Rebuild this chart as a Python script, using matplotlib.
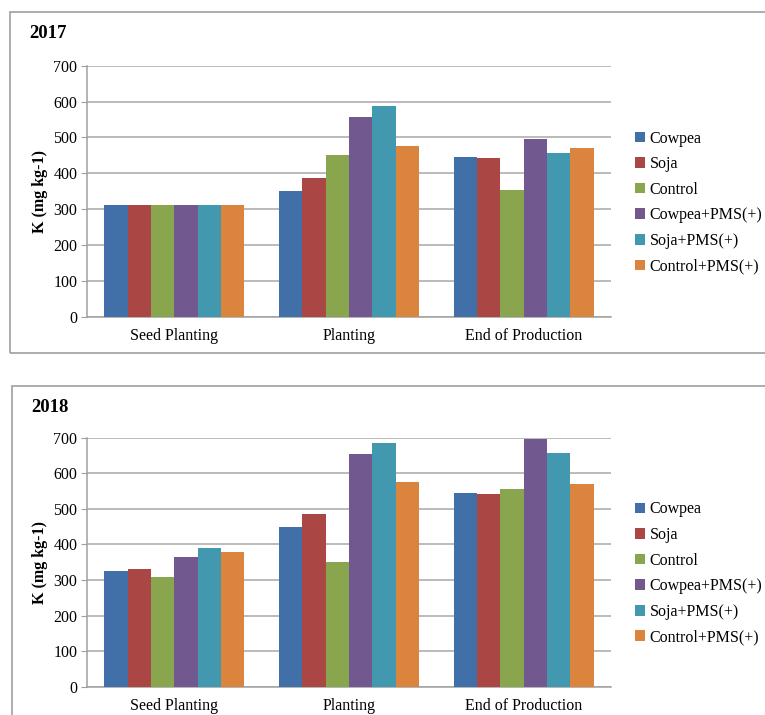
import matplotlib
matplotlib.use("Agg")
import matplotlib.pyplot as plt
from matplotlib.patches import Rectangle
import numpy as np

plt.rcParams['font.family'] = ['Liberation Serif', 'DejaVu Serif']

stages = ['Seed Planting', 'Planting', 'End of Production']
treatments = ['Cowpea', 'Soja', 'Control', 'Cowpea+PMS(+)', 'Soja+PMS(+)', 'Control+PMS(+)']
colors = ['#4170A8', '#AA4644', '#89A54E', '#71588F', '#4198AF', '#DB843D']

# K (mg kg-1), one list per treatment: [seed planting, planting, end of production]
k_2017 = [
    [312, 350, 445],
    [312, 386, 442],
    [312, 451, 353],
    [312, 557, 496],
    [312, 587, 456],
    [312, 476, 470],
]
k_2018 = [
    [324, 449, 544],
    [330, 486, 542],
    [308, 350, 555],
    [364, 655, 696],
    [389, 684, 656],
    [380, 575, 569],
]

W, H = 765, 715
fig = plt.figure(figsize=(W / 100, H / 100), dpi=100)


def px(x0, y0, x1, y1):
    # pixel box (top-left origin) -> figure fraction rect
    return [x0 / W, 1 - y1 / H, (x1 - x0) / W, (y1 - y0) / H]


def draw_panel(ax, data, year, box):
    x = np.arange(len(stages))
    bw = 0.8 / len(treatments)
    for i, (name, vals) in enumerate(zip(treatments, data)):
        ax.bar(x - 0.4 + bw * (i + 0.5), vals, width=bw, color=colors[i],
               label=name, zorder=3)
    ax.set_xlim(-0.5, 2.5)
    ax.set_ylim(0, 700)
    ax.set_yticks(range(0, 701, 100))
    ax.set_xticks(x)
    ax.set_xticklabels(stages, fontsize=11.5)
    ax.tick_params(axis='x', length=0, pad=8)
    ax.tick_params(axis='y', labelsize=11.5, length=4, color='#A0A0A0', pad=3)
    ax.grid(axis='y', color='#A8A8A8', linewidth=1.1, zorder=0)
    for s in ['top', 'right']:
        ax.spines[s].set_visible(False)
    ax.spines['left'].set_color('#A0A0A0')
    ax.spines['bottom'].set_color('#A0A0A0')
    ax.spines['left'].set_linewidth(1.1)
    ax.spines['bottom'].set_linewidth(1.1)
    ax.set_ylabel('K (mg kg-1)', fontsize=11.5, fontweight='bold', labelpad=4)
    ax.legend(loc='center left', bbox_to_anchor=(1.046, 0.455), frameon=False,
              fontsize=11.5, handlelength=0.65, handleheight=0.65,
              handletextpad=0.25, labelspacing=0.6, borderpad=0,
              borderaxespad=0)
    bx0, by0, bx1, by1 = box
    fig.add_artist(Rectangle((bx0 / W, 1 - by1 / H), (bx1 - bx0) / W,
                             (by1 - by0) / H, transform=fig.transFigure,
                             fill=False, edgecolor='#A6A6A6', linewidth=1.3))
    fig.text((bx0 + 19) / W, 1 - (by0 + 22) / H, year, fontsize=13.5,
             fontweight='bold', va='center', ha='left')


ax1 = fig.add_axes(px(87, 65.7, 611, 316.7))
draw_panel(ax1, k_2017, '2017', (10, 12, 800, 353))

ax2 = fig.add_axes(px(87, 437.7, 611, 686.7))
draw_panel(ax2, k_2018, '2018', (12, 386, 800, 760))

fig.savefig('out.png', dpi=100)
